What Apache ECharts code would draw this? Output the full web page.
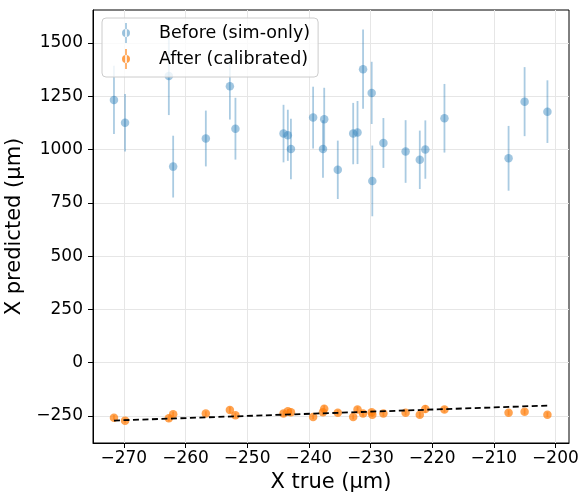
<!DOCTYPE html>
<html>
<head>
<meta charset="utf-8">
<script src="https://cdn.jsdelivr.net/npm/echarts@6/dist/echarts.min.js"></script>
<style>
  html, body { margin: 0; padding: 0; background: #fff; }
  #chart { width: 579px; height: 493px; }
</style>
</head>
<body>
<div id="chart"></div>
<script>
// true X position of each sample (µm)
const trueX = [-271.6, -269.8, -262.7, -262.0, -256.7, -252.8, -251.9, -244.1, -243.4, -242.9,
  -239.3, -237.7, -237.5, -235.3, -232.8, -232.1, -231.2, -229.8, -229.7, -227.9,
  -224.3, -222.0, -221.1, -218.0, -207.6, -205.0, -201.3];

// predictions before calibration (sim-only) and their errors
const beforeY = [1233, 1126, 1345, 920, 1052, 1297, 1098, 1075, 1067, 1003,
  1150, 1003, 1142, 905, 1075, 1080, 1377, 1266, 853, 1031,
  991, 952, 1000, 1147, 959, 1225, 1178];
const beforeErr = [160, 135, 183, 145, 131, 156, 145, 135, 120, 142,
  145, 135, 148, 137, 144, 148, 186, 146, 166, 117,
  147, 137, 137, 161, 152, 162, 147];

// predictions after calibration and their errors
const afterY = [-258, -272, -261, -242, -239, -222, -247, -239, -228, -233,
  -255, -233, -216, -235, -255, -220, -239, -233, -244, -239,
  -235, -244, -217, -220, -235, -230, -244];
const afterErr = [12, 10, 14, 12, 11, 15, 12, 13, 11, 12,
  10, 13, 16, 12, 11, 14, 12, 13, 11, 12,
  12, 13, 18, 14, 12, 13, 12];

// ideal y = x reference line
const idealLine = [[-271.6, -271.6], [-201.3, -201.3]];

const xTicks = [-270, -260, -250, -240, -230, -220, -210, -200];
const yTicks = [-250, 0, 250, 500, 750, 1000, 1250, 1500];

const FONT = "DejaVu Sans";
const BLUE = "#1f77b4";
const ORANGE = "#ff7f0e";
const legendIcon = "path://M3.2,0 h1.6 v20 h-1.6 Z M4,6 a4,4 0 1,0 0,8 a4,4 0 1,0 0,-8 Z";

const minus = (v) => String(v).replace("-", "\u2212");

function errBars(color, opacity) {
  return function (params, api) {
    const x = api.value(0), y = api.value(1), e = api.value(2);
    const p1 = api.coord([x, y - e]);
    const p2 = api.coord([x, y + e]);
    return {
      type: "line",
      shape: { x1: p1[0], y1: p1[1], x2: p2[0], y2: p2[1] },
      style: { stroke: color, lineWidth: 1.8, opacity: opacity },
    };
  };
}

const chart = echarts.init(document.getElementById("chart"));

chart.setOption({
  animation: false,
  textStyle: { fontFamily: FONT },
  grid: {
    left: 93, right: 10, top: 10, bottom: 50,
    outerBoundsMode: "none",
    containLabel: false,
    show: true, borderColor: "#000", borderWidth: 1,
  },
  legend: {
    orient: "vertical",
    left: 102, top: 18,
    padding: [5, 8, 8, 20],
    itemGap: 6,
    itemWidth: 8,
    itemHeight: 20,
    backgroundColor: "rgba(255,255,255,0.8)",
    borderColor: "#cccccc",
    borderWidth: 1,
    borderRadius: 4,
    textStyle: { fontFamily: FONT, fontSize: 17.5, color: "#000", padding: [0, 0, 0, 24] },
    data: [
      { name: "Before (sim-only)", icon: legendIcon, itemStyle: { color: BLUE, opacity: 0.45 } },
      { name: "After (calibrated)", icon: legendIcon, itemStyle: { color: ORANGE, opacity: 0.75 } },
    ],
  },
  xAxis: {
    type: "value",
    min: -275.0, max: -197.8,
    name: "X true (µm)",
    nameLocation: "middle",
    nameGap: 29,
    nameTextStyle: { fontFamily: FONT, fontSize: 21, color: "#000" },
    axisLine: { show: true, onZero: false, lineStyle: { color: "#000" } },
    axisTick: { show: true, length: 5, customValues: xTicks, lineStyle: { color: "#000" } },
    axisLabel: { customValues: xTicks, margin: 7, fontSize: 17, color: "#000", formatter: minus },
    splitLine: { show: true, lineStyle: { color: "#e6e6e6" } },
  },
  yAxis: {
    type: "value",
    min: -377, max: 1655,
    name: "X predicted (µm)",
    nameLocation: "middle",
    nameGap: 61,
    nameTextStyle: { fontFamily: FONT, fontSize: 21, color: "#000" },
    axisLine: { show: true, onZero: false, lineStyle: { color: "#000" } },
    axisTick: { show: true, length: 5, customValues: yTicks, lineStyle: { color: "#000" } },
    axisLabel: { customValues: yTicks, margin: 10, fontSize: 17, color: "#000", formatter: minus },
    splitLine: { show: true, lineStyle: { color: "#e6e6e6" } },
  },
  series: [
    {
      type: "custom",
      name: "Before (sim-only)",
      renderItem: errBars(BLUE, 0.38),
      data: trueX.map((x, i) => [x, beforeY[i], beforeErr[i]]),
      z: 2,
    },
    {
      type: "scatter",
      name: "Before (sim-only)",
      symbolSize: 8.5,
      itemStyle: { color: BLUE, opacity: 0.42 },
      data: trueX.map((x, i) => [x, beforeY[i]]),
      z: 3,
    },
    {
      type: "custom",
      name: "After (calibrated)",
      renderItem: errBars(ORANGE, 0.6),
      data: trueX.map((x, i) => [x, afterY[i], afterErr[i]]),
      z: 4,
    },
    {
      type: "scatter",
      name: "After (calibrated)",
      symbolSize: 8.5,
      itemStyle: { color: ORANGE, opacity: 0.72 },
      data: trueX.map((x, i) => [x, afterY[i]]),
      z: 5,
    },
    {
      type: "line",
      name: "ideal",
      symbol: "none",
      lineStyle: { color: "#000", width: 1.8, type: [6, 3.5] },
      data: idealLine,
      z: 6,
    },
  ],
});
</script>
</body>
</html>
